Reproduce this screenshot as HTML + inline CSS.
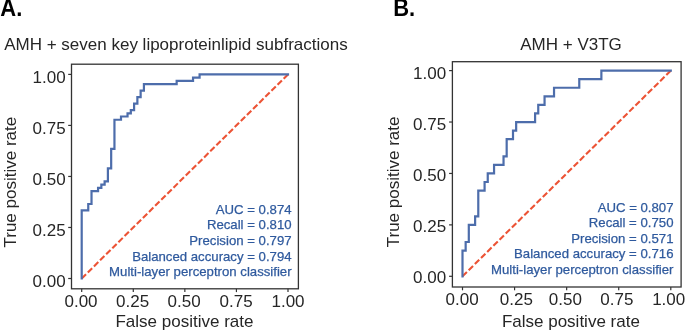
<!DOCTYPE html>
<html><head><meta charset="utf-8"><style>
html,body{margin:0;padding:0;background:#fff;}
svg{display:block;will-change:transform;}
.t{font-family:"Liberation Sans",sans-serif;font-size:17px;fill:#262626;}
.lg{font-family:"Liberation Sans",sans-serif;font-size:13.2px;fill:#2f5a9e;stroke:#2f5a9e;stroke-width:0.25px;}
.h{font-family:"Liberation Sans",sans-serif;font-size:22px;font-weight:bold;fill:#000;}
</style></head><body>
<svg width="685" height="331" viewBox="0 0 685 331">
<rect width="685" height="331" fill="#fff"/>
<text transform="translate(0.3,15.8) scale(1,1.06)" class="h">A.</text>
<text transform="translate(393.2,15.8) scale(1,1.06)" class="h">B.</text>
<rect x="71.5" y="64.2" width="226.90" height="224.60" fill="none" stroke="#333333" stroke-width="1.3"/>
<line x1="68.2" y1="278.50" x2="71.5" y2="278.50" stroke="#333333" stroke-width="1.2"/>
<line x1="81.70" y1="288.8" x2="81.70" y2="292.1" stroke="#333333" stroke-width="1.2"/>
<text x="65.6" y="286.80" text-anchor="end" class="t">0.00</text>
<text x="81.00" y="307.0" text-anchor="middle" class="t">0.00</text>
<line x1="68.2" y1="227.47" x2="71.5" y2="227.47" stroke="#333333" stroke-width="1.2"/>
<line x1="133.28" y1="288.8" x2="133.28" y2="292.1" stroke="#333333" stroke-width="1.2"/>
<text x="65.6" y="235.80" text-anchor="end" class="t">0.25</text>
<text x="132.60" y="307.0" text-anchor="middle" class="t">0.25</text>
<line x1="68.2" y1="176.45" x2="71.5" y2="176.45" stroke="#333333" stroke-width="1.2"/>
<line x1="184.85" y1="288.8" x2="184.85" y2="292.1" stroke="#333333" stroke-width="1.2"/>
<text x="65.6" y="184.75" text-anchor="end" class="t">0.50</text>
<text x="184.10" y="307.0" text-anchor="middle" class="t">0.50</text>
<line x1="68.2" y1="125.43" x2="71.5" y2="125.43" stroke="#333333" stroke-width="1.2"/>
<line x1="236.43" y1="288.8" x2="236.43" y2="292.1" stroke="#333333" stroke-width="1.2"/>
<text x="65.6" y="133.70" text-anchor="end" class="t">0.75</text>
<text x="236.10" y="307.0" text-anchor="middle" class="t">0.75</text>
<line x1="68.2" y1="74.40" x2="71.5" y2="74.40" stroke="#333333" stroke-width="1.2"/>
<line x1="288.00" y1="288.8" x2="288.00" y2="292.1" stroke="#333333" stroke-width="1.2"/>
<text x="65.6" y="82.70" text-anchor="end" class="t">1.00</text>
<text x="288.00" y="307.0" text-anchor="middle" class="t">1.00</text>
<line x1="81.7" y1="278.5" x2="288.0" y2="74.4" stroke="#ec5335" stroke-width="2.1" stroke-dasharray="6.1 2.51"/>
<path d="M81.70,278.50 L81.70,210.47 L88.25,210.47 L88.25,203.99 L91.52,203.99 L91.52,191.03 L98.07,191.03 L98.07,187.79 L101.35,187.79 L101.35,184.55 L104.62,184.55 L104.62,181.31 L107.90,181.31 L107.90,168.35 L111.17,168.35 L111.17,148.91 L114.45,148.91 L114.45,119.76 L121.00,119.76 L121.00,116.52 L127.54,116.52 L127.54,113.28 L130.82,113.28 L130.82,110.04 L134.09,110.04 L134.09,103.56 L137.37,103.56 L137.37,97.08 L140.64,97.08 L140.64,90.60 L143.92,90.60 L143.92,84.12 L176.66,84.12 L176.66,80.88 L193.04,80.88 L193.04,77.64 L199.59,77.64 L199.59,74.40 L288.00,74.40" fill="none" stroke="#4d6dab" stroke-width="2.2" stroke-linecap="square" stroke-linejoin="miter"/>
<text x="291.6" y="213.90" text-anchor="end" class="lg">AUC = 0.874</text>
<text x="291.6" y="229.40" text-anchor="end" class="lg">Recall = 0.810</text>
<text x="291.6" y="244.90" text-anchor="end" class="lg">Precision = 0.797</text>
<text x="291.6" y="260.50" text-anchor="end" class="lg">Balanced accuracy = 0.794</text>
<text x="291.6" y="275.90" text-anchor="end" class="lg">Multi-layer perceptron classifier</text>
<text transform="translate(16.3,182.15) rotate(-90)" text-anchor="middle" class="t">True positive rate</text>
<text x="184.45" y="326.6" text-anchor="middle" class="t">False positive rate</text>
<text x="4.2" y="50.2" class="t">AMH + seven key lipoproteinlipid subfractions</text>
<rect x="452.4" y="61.7" width="228.70" height="225.30" fill="none" stroke="#333333" stroke-width="1.3"/>
<line x1="449.09999999999997" y1="276.30" x2="452.4" y2="276.30" stroke="#333333" stroke-width="1.2"/>
<line x1="462.50" y1="287.0" x2="462.50" y2="290.3" stroke="#333333" stroke-width="1.2"/>
<text x="446.2" y="283.40" text-anchor="end" class="t">0.00</text>
<text x="462.15" y="305.1" text-anchor="middle" class="t">0.00</text>
<line x1="449.09999999999997" y1="224.88" x2="452.4" y2="224.88" stroke="#333333" stroke-width="1.2"/>
<line x1="514.58" y1="287.0" x2="514.58" y2="290.3" stroke="#333333" stroke-width="1.2"/>
<text x="446.2" y="232.20" text-anchor="end" class="t">0.25</text>
<text x="516.40" y="305.1" text-anchor="middle" class="t">0.25</text>
<line x1="449.09999999999997" y1="173.45" x2="452.4" y2="173.45" stroke="#333333" stroke-width="1.2"/>
<line x1="566.65" y1="287.0" x2="566.65" y2="290.3" stroke="#333333" stroke-width="1.2"/>
<text x="446.2" y="181.10" text-anchor="end" class="t">0.50</text>
<text x="565.40" y="305.1" text-anchor="middle" class="t">0.50</text>
<line x1="449.09999999999997" y1="122.03" x2="452.4" y2="122.03" stroke="#333333" stroke-width="1.2"/>
<line x1="618.72" y1="287.0" x2="618.72" y2="290.3" stroke="#333333" stroke-width="1.2"/>
<text x="446.2" y="130.20" text-anchor="end" class="t">0.75</text>
<text x="616.90" y="305.1" text-anchor="middle" class="t">0.75</text>
<line x1="449.09999999999997" y1="70.60" x2="452.4" y2="70.60" stroke="#333333" stroke-width="1.2"/>
<line x1="670.80" y1="287.0" x2="670.80" y2="290.3" stroke="#333333" stroke-width="1.2"/>
<text x="446.2" y="79.00" text-anchor="end" class="t">1.00</text>
<text x="668.70" y="305.1" text-anchor="middle" class="t">1.00</text>
<line x1="462.5" y1="276.3" x2="670.8" y2="70.6" stroke="#ec5335" stroke-width="2.1" stroke-dasharray="6.15 2.53"/>
<path d="M462.50,276.30 L462.50,250.59 L465.66,250.59 L465.66,242.02 L468.81,242.02 L468.81,224.88 L475.12,224.88 L475.12,216.30 L478.28,216.30 L478.28,190.59 L484.59,190.59 L484.59,182.02 L487.75,182.02 L487.75,173.45 L494.06,173.45 L494.06,164.88 L503.53,164.88 L503.53,156.31 L506.68,156.31 L506.68,139.17 L513.00,139.17 L513.00,130.60 L516.15,130.60 L516.15,122.03 L535.09,122.03 L535.09,113.45 L538.25,113.45 L538.25,104.88 L544.56,104.88 L544.56,96.31 L554.03,96.31 L554.03,87.74 L579.27,87.74 L579.27,79.17 L601.37,79.17 L601.37,70.60 L670.80,70.60" fill="none" stroke="#4d6dab" stroke-width="2.2" stroke-linecap="square" stroke-linejoin="miter"/>
<text x="673.5" y="211.60" text-anchor="end" class="lg">AUC = 0.807</text>
<text x="673.5" y="227.00" text-anchor="end" class="lg">Recall = 0.750</text>
<text x="673.5" y="242.60" text-anchor="end" class="lg">Precision = 0.571</text>
<text x="673.5" y="258.30" text-anchor="end" class="lg">Balanced accuracy = 0.716</text>
<text x="673.5" y="273.80" text-anchor="end" class="lg">Multi-layer perceptron classifier</text>
<text transform="translate(398.6,181.9) rotate(-90)" text-anchor="middle" class="t">True positive rate</text>
<text x="570.9" y="326.6" text-anchor="middle" class="t">False positive rate</text>
<text x="571.05" y="49.8" text-anchor="middle" class="t">AMH + V3TG</text>
</svg>
</body></html>
